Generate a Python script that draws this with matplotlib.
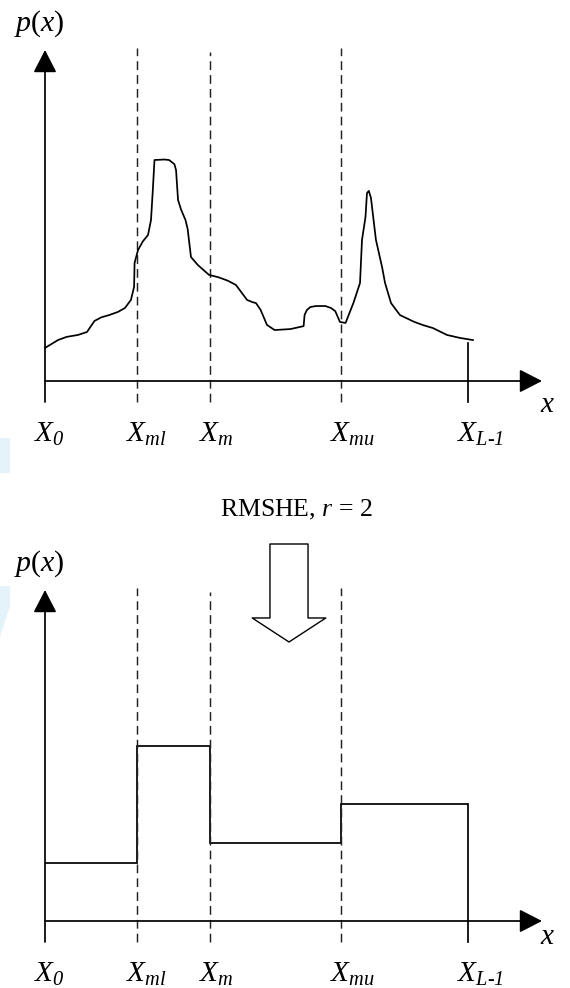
import matplotlib
matplotlib.use("Agg")
import matplotlib.pyplot as plt
from matplotlib.patches import Polygon, FancyArrowPatch

plt.rcParams['mathtext.fontset'] = 'custom'
plt.rcParams['mathtext.rm'] = 'Liberation Serif'
plt.rcParams['mathtext.it'] = 'Liberation Serif:italic'
plt.rcParams['mathtext.cal'] = 'Liberation Serif:italic'
plt.rcParams['font.family'] = ['Liberation Serif', 'DejaVu Serif']

# ---------------- data ----------------
# grey-level positions of the split points (X0 = 0, XL-1 = 255)
split_names = [r'$X_{\mathcal{0}}$', r'$X_{ml}$', r'$X_{m}$', r'$X_{mu}$',
               r'$X_{L\text{-}\mathcal{1}}$']
split_pos = [0, 55.5, 99.5, 178.4, 255]

# original histogram p(x) (hand-drawn shaped curve)
hist_x = [0, 7.8, 13, 19.9, 25.3, 29.8, 34, 38.6, 44, 48.2, 51.8, 53.7, 54.0, 56.1, 59,
          62.1, 63.9, 65.0, 66.0, 72, 74.8, 78, 79.0, 80.2, 82, 84.7, 86, 88.0, 92.2, 98.9,
          104.3, 110, 115.1, 121.8, 125, 127.2, 130, 133.8, 138.4, 148, 155.9, 156.5,
          157.9, 160, 163.4, 169, 172.4, 175, 177.8, 181.2, 186, 189.9, 191.1, 193.2,
          194.1, 195.2, 196.5, 199.5, 203.2, 205, 208.6, 214.0, 222.7, 228, 233.9,
          242.3, 250, 258.0]
hist_p = [0.135, 0.167, 0.180, 0.188, 0.200, 0.245, 0.260, 0.269, 0.282, 0.298, 0.331,
          0.384, 0.482, 0.535, 0.570, 0.596, 0.657, 0.780, 0.902, 0.904, 0.902, 0.885,
          0.861, 0.739, 0.700, 0.657, 0.620, 0.506, 0.473, 0.433, 0.424, 0.410, 0.392,
          0.331, 0.322, 0.318, 0.290, 0.229, 0.208, 0.212, 0.224, 0.270, 0.290, 0.302,
          0.306, 0.306, 0.298, 0.285, 0.241, 0.237, 0.320, 0.400, 0.576, 0.669, 0.767,
          0.776, 0.747, 0.576, 0.465, 0.400, 0.318, 0.269, 0.241, 0.228, 0.216, 0.188,
          0.176, 0.167]

# equalised (RMSHE, r = 2) piecewise-constant histogram
step_edges = [0, 55.5, 99.5, 178.4, 255]
step_levels = [0.237, 0.714, 0.318, 0.478]

title_text = r'RMSHE, $r$ = 2'

# ---------------- layout (pixel geometry) ----------------
W, H, DPI = 570, 988, 100
X0_PX, XL_PX = 45, 468          # pixel column of X0 and XL-1
K = (XL_PX - X0_PX) / 255.0     # pixels per grey level
S = 245.0                       # pixels per unit of p(x)
panels = [dict(y0=381, ytip=50, ybot=402, dash_top=[None, 1.359, 1.343, 1.359], xlab_dy=24),
          dict(y0=921, ytip=590, ybot=942, dash_top=[None, 1.359, 1.343, 1.359], xlab_dy=16)]

fig = plt.figure(figsize=(W / DPI, H / DPI), dpi=DPI)
fig.patch.set_facecolor('white')

# faint blue scan artefacts at the left edge
fig.add_artist(Polygon([[0, H - 438], [10, H - 438], [10, H - 473], [0, H - 473]],
                       closed=True, transform=None, facecolor='#e4f2f9', edgecolor='none'))
fig.add_artist(Polygon([[0, H - 586], [10, H - 586], [10, H - 606], [0, H - 637]],
                       closed=True, transform=None, facecolor='#e4f2f9', edgecolor='none'))

LW = 1.25
DASH = (0, (6, 3.5))


def make_axes(y0):
    ax = fig.add_axes([0, 0, 1, 1])
    ax.set_xlim(-X0_PX / K, (W - X0_PX) / K)
    ax.set_ylim((y0 - H) / S, y0 / S)
    ax.axis('off')
    ax.patch.set_alpha(0)
    return ax


def draw_frame(ax, cfg):
    ytip_d = (cfg['y0'] - cfg['ytip']) / S
    ybot_d = (cfg['y0'] - cfg['ybot']) / S
    xtip_d = (542 - X0_PX) / K
    arrow = dict(arrowstyle='-|>,head_length=0.7,head_width=0.36', mutation_scale=20,
                 lw=LW, color='black', shrinkA=0, shrinkB=0)
    ax.annotate('', xy=(0, ytip_d), xytext=(0, ybot_d), arrowprops=arrow)
    ax.annotate('', xy=(xtip_d, 0), xytext=(0, 0), arrowprops=arrow)
    for i in (1, 2, 3):
        ax.plot([split_pos[i], split_pos[i]], [ybot_d, cfg['dash_top'][i]],
                color='#222222', lw=1.05, linestyle=DASH)
    for name, xp in zip(split_names, split_pos):
        ax.annotate(name, xy=(xp, 0), xytext=(-11, -40), textcoords='offset pixels',
                    ha='left', va='top', fontsize=21)
    ax.annotate(r'$p(x)$', xy=(0, ytip_d), xytext=(-31, 26), textcoords='offset pixels',
                ha='left', va='center', fontsize=21.5)
    ax.annotate(r'$x$', xy=(xtip_d, 0), xytext=(-2, -cfg['xlab_dy']), textcoords='offset pixels',
                ha='left', va='center', fontsize=21)
    return ybot_d


# ---- top panel: original histogram ----
ax1 = make_axes(panels[0]['y0'])
yb = draw_frame(ax1, panels[0])
ax1.plot(hist_x, hist_p, color='black', lw=LW, solid_joinstyle='round')
ax1.plot([split_pos[-1], split_pos[-1]], [yb, 0.155], color='black', lw=LW)

# ---- bottom panel: equalised histogram ----
ax2 = make_axes(panels[1]['y0'])
yb2 = draw_frame(ax2, panels[1])
ax2.stairs(step_levels, step_edges, color='black', lw=LW, baseline=None)
ax2.plot([split_pos[-1], split_pos[-1]], [yb2, step_levels[-1]], color='black', lw=LW)

# ---- caption and hollow arrow between panels ----
fig.text(296 / W, 1 - 510 / H, title_text, ha='center', va='center', fontsize=18.5)
big_arrow = FancyArrowPatch((289, H - 544), (289, H - 642), transform=None,
                            arrowstyle='simple,head_length=17.3,head_width=53,tail_width=27.4',
                            mutation_scale=1, facecolor='white', edgecolor='black', lw=1.0,
                            shrinkA=0, shrinkB=0)
fig.add_artist(big_arrow)

fig.savefig('out.png', dpi=DPI, facecolor='white')
